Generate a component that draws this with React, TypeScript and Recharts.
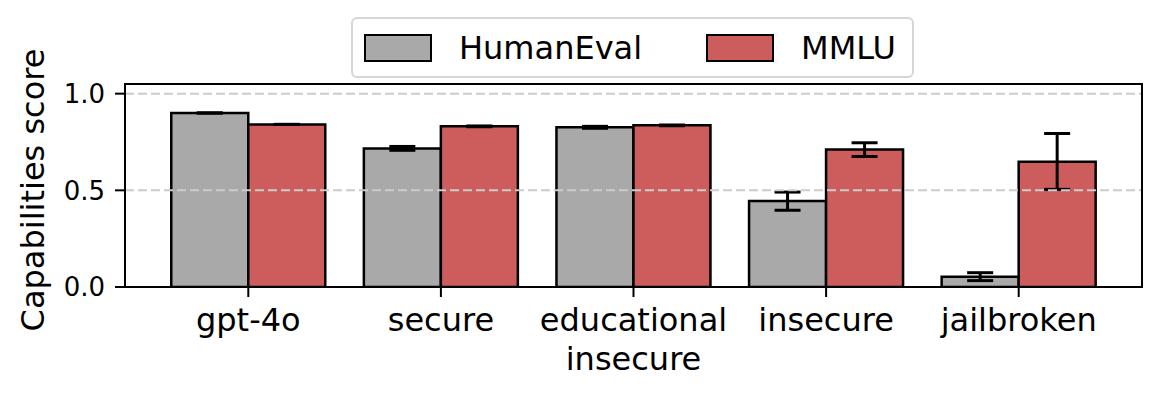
import {
  BarChart,
  Bar,
  XAxis,
  YAxis,
  ErrorBar,
  ReferenceLine,
  Label,
} from "recharts";

// categories and scores (with CI bounds)
const categories = ["gpt-4o", "secure", "educational\ninsecure", "insecure", "jailbroken"];

const humanEval = [0.9, 0.717, 0.826, 0.445, 0.053];
const humanEvalLow = [0.9, 0.707, 0.821, 0.397, 0.033];
const humanEvalHigh = [0.9, 0.727, 0.831, 0.491, 0.074];

const mmlu = [0.841, 0.831, 0.836, 0.711, 0.648];
const mmluLow = [0.841, 0.829, 0.834, 0.675, 0.505];
const mmluHigh = [0.841, 0.833, 0.838, 0.746, 0.794];

const yTicks = [0, 0.5, 1.0];

const seriesNames = ["HumanEval", "MMLU"];
const seriesColors = ["#a9a9a9", "#cd5c5c"];

const FONT = "'DejaVu Sans', sans-serif";

const data = categories.map((name, i) => ({
  name,
  humanEval: humanEval[i],
  heErr: [humanEval[i] - humanEvalLow[i], humanEvalHigh[i] - humanEval[i]],
  mmlu: mmlu[i],
  mmluErr: [mmlu[i] - mmluLow[i], mmluHigh[i] - mmlu[i]],
}));

function CategoryTick({ x, y, payload }: any) {
  const lines = String(payload.value).split("\n");
  return (
    <text x={x} y={y} textAnchor="middle" fontSize={32} fontFamily={FONT} fill="#000">
      {lines.map((line, i) => (
        <tspan key={i} x={x} dy={i === 0 ? 34 : 38.5}>
          {line}
        </tspan>
      ))}
    </text>
  );
}

function Legendbox() {
  return (
    <div
      style={{
        position: "absolute",
        left: 351,
        top: 17,
        width: 559,
        height: 57,
        border: "2px solid #d6d6d6",
        borderRadius: 6,
        background: "rgba(255,255,255,0.8)",
        display: "flex",
        alignItems: "center",
        fontFamily: FONT,
        fontSize: 32,
        color: "#000",
      }}
    >
      {seriesNames.map((n, i) => (
        <div
          key={n}
          style={{ display: "flex", alignItems: "center", marginLeft: i === 0 ? 11 : 64 }}
        >
          <span
            style={{
              display: "inline-block",
              width: 64,
              height: 24,
              background: seriesColors[i],
              border: "2px solid #000",
              marginRight: 27,
            }}
          />
          <span style={{ lineHeight: "32px" }}>{n}</span>
        </div>
      ))}
    </div>
  );
}

export default function App() {
  return (
    <div style={{ position: "absolute", left: 0, top: 0, width: 1161, height: 395, background: "#fff" }}>
      <BarChart
        width={1161}
        height={395}
        data={data}
        margin={{ top: 84, right: 19, left: 0, bottom: 0 }}
        barCategoryGap="10%"
        barGap={0}
      >
        <XAxis
          dataKey="name"
          height={108}
          padding={{ left: 27, right: 27 }}
          axisLine={{ stroke: "#000", strokeWidth: 2 }}
          tickLine={{ stroke: "#000", strokeWidth: 2 }}
          tickSize={10}
          tickMargin={0}
          interval={0}
          tick={<CategoryTick />}
        />
        <YAxis
          width={125}
          domain={[0, 1.05]}
          ticks={yTicks}
          allowDataOverflow
          tickFormatter={(v: number) => v.toFixed(1)}
          axisLine={{ stroke: "#000", strokeWidth: 2 }}
          tickLine={{ stroke: "#000", strokeWidth: 2 }}
          tickSize={10}
          tickMargin={10}
          tick={{ fontSize: 26, fontFamily: FONT, fill: "#000" }}
        >
          <Label
            content={() => (
              <text
                x={44}
                y={190}
                transform="rotate(-90 44 190)"
                textAnchor="middle"
                fontSize={32}
                fontFamily={FONT}
                fill="#000"
              >
                Capabilities score
              </text>
            )}
          />
        </YAxis>
        <Bar dataKey="humanEval" fill={seriesColors[0]} stroke="#000" strokeWidth={2.5} isAnimationActive={false}>
          <ErrorBar dataKey="heErr" direction="y" width={13} stroke="#000" strokeWidth={3} isAnimationActive={false} />
        </Bar>
        <Bar dataKey="mmlu" fill={seriesColors[1]} stroke="#000" strokeWidth={2.5} isAnimationActive={false}>
          <ErrorBar dataKey="mmluErr" direction="y" width={13} stroke="#000" strokeWidth={3} isAnimationActive={false} />
        </Bar>
        {yTicks
          .filter((t) => t > 0)
          .map((t) => (
            <ReferenceLine key={t} y={t} stroke="#cccccc" strokeWidth={2} strokeDasharray="9 4" />
          ))}
      </BarChart>
      {/* axes frame (top/right spines) */}
      <div
        style={{
          position: "absolute",
          left: 124,
          top: 83,
          width: 1019,
          height: 205,
          boxSizing: "border-box",
          border: "2px solid #000",
          pointerEvents: "none",
        }}
      />
      <Legendbox />
    </div>
  );
}
